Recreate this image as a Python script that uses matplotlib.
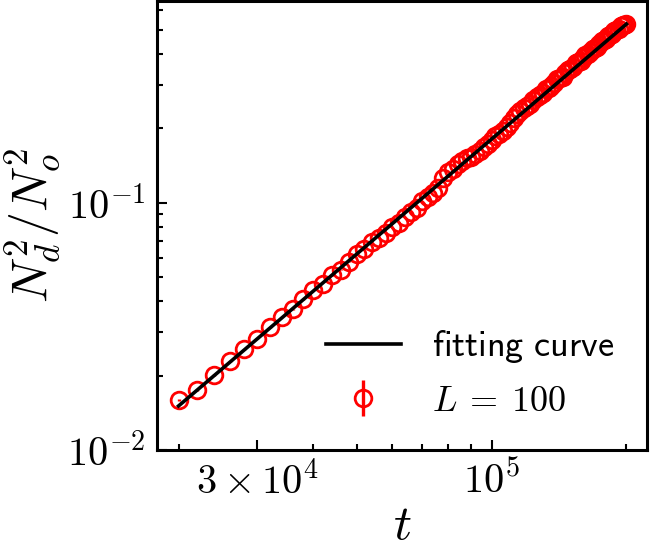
import numpy as np
import matplotlib.pyplot as plt
from matplotlib.ticker import FixedLocator, FixedFormatter, NullFormatter

plt.rcParams['mathtext.fontset'] = 'cm'
plt.rcParams['font.family'] = 'serif'
plt.rcParams['font.serif'] = ['cmr10', 'DejaVu Serif']
plt.rcParams['axes.unicode_minus'] = False

# time steps of the measured data
t = [20000, 22000, 24000, 26000, 28000, 30000, 32000, 34000, 36000, 38000,
     40000, 42000, 44000, 46000, 48000, 50000, 52000, 54000, 56000, 58000,
     60000, 62000, 64000, 66000, 68000, 70000, 72000, 74000, 76000, 78000,
     80000, 82000, 84000, 86000, 88000, 90000, 92000, 94000, 96000, 98000,
     100000, 102000, 104000, 106000, 108000, 110000, 112000, 114000, 116000, 118000,
     120000, 122000, 124000, 126000, 128000, 130000, 132000, 134000, 136000, 138000,
     140000, 142000, 144000, 146000, 148000, 150000, 152000, 154000, 156000, 158000,
     160000, 162000, 164000, 166000, 168000, 170000, 172000, 174000, 176000, 178000,
     180000, 182000, 184000, 186000, 188000, 190000, 192000, 194000, 196000, 198000,
     200000]

# N_d^2 / N_o^2 for L = 100
ratio = [0.01600, 0.01746, 0.02015, 0.02280, 0.02556, 0.02818, 0.03142, 0.03450, 0.03700, 0.04060,
         0.04435, 0.04695, 0.05089, 0.05355, 0.05768, 0.06200, 0.06468, 0.06919, 0.07185, 0.07515,
         0.07990, 0.08252, 0.08747, 0.09172, 0.09516, 0.10140, 0.10494, 0.10947, 0.11514, 0.12548,
         0.13291, 0.13681, 0.14330, 0.14724, 0.15116, 0.15365, 0.15750, 0.16132, 0.16819, 0.17204,
         0.17913, 0.18640, 0.19031, 0.19420, 0.20176, 0.20948, 0.21939, 0.22755, 0.23375, 0.24221,
         0.24630, 0.25036, 0.25910, 0.26803, 0.27211, 0.27870, 0.28799, 0.29204, 0.29606, 0.30560,
         0.31536, 0.31939, 0.32336, 0.33338, 0.34367, 0.34764, 0.35482, 0.36543, 0.36936, 0.37325,
         0.38408, 0.39516, 0.39901, 0.40655, 0.41797, 0.42178, 0.42553, 0.43720, 0.44909, 0.45281,
         0.46069, 0.47299, 0.47663, 0.48020, 0.49270, 0.50081, 0.50431, 0.51717, 0.52062, 0.52400,
         0.52723]
ratio_err = 0.00015

# power-law fit  a * (t / t0)^b
fit_t0 = 20000.0
fit_a = 0.01507
fit_b = 1.544

t = np.array(t)
ratio = np.array(ratio)
t_fit = np.linspace(t[0], t[-1], 300)
y_fit = fit_a * (t_fit / fit_t0) ** fit_b

fig = plt.figure(figsize=(6.5, 5.45), dpi=100)
ax = fig.add_axes([0.2415, 0.1743, 0.7535, 0.8237])

eb = ax.errorbar(t, ratio, yerr=ratio_err, fmt='o', mfc='none', mec='red',
                 ecolor='red', ms=12, mew=2.0, elinewidth=2.4, color='red',
                 label=r'$L\:=\:100$', zorder=2)
ln, = ax.plot(t_fit, y_fit, 'k-', lw=2.6, label=r'$\mathsf{fitting\ curve}$', zorder=3)

ax.set_xscale('log')
ax.set_yscale('log')
ax.set_xlim(1.79e4, 2.22e5)
ax.set_ylim(1e-2, 0.653)

ax.xaxis.set_major_locator(FixedLocator([3e4, 1e5]))
ax.xaxis.set_major_formatter(FixedFormatter([r'$3\times10^4$', r'$10^5$']))
ax.xaxis.set_minor_locator(FixedLocator([2e4, 4e4, 5e4, 6e4, 7e4, 8e4, 9e4, 2e5]))
ax.xaxis.set_minor_formatter(NullFormatter())

ax.yaxis.set_major_locator(FixedLocator([1e-2, 1e-1]))
ax.yaxis.set_major_formatter(FixedFormatter([r'$10^{-2}$', r'$10^{-1}$']))
ax.yaxis.set_minor_locator(FixedLocator([2e-2, 3e-2, 4e-2, 5e-2, 6e-2, 7e-2, 8e-2, 9e-2,
                                         0.2, 0.3, 0.4, 0.5, 0.6]))
ax.yaxis.set_minor_formatter(NullFormatter())

ax.tick_params(which='both', direction='in', labelsize=29, width=1.5)
ax.tick_params(which='major', length=7, pad=8)
ax.tick_params(which='minor', length=4.5)
for s in ax.spines.values():
    s.set_linewidth(2.2)

ax.set_xlabel(r'$t$', fontsize=36, labelpad=1)
ax.set_ylabel(r'$N_d^2/N_o^2$', fontsize=36, labelpad=4)

ax.legend(handles=[ln, eb], loc='lower right', frameon=False, fontsize=26,
          handlelength=2.1, handletextpad=0.85, labelspacing=0.55,
          bbox_to_anchor=(1.0, 0.0))

fig.savefig('out.png', dpi=100)
